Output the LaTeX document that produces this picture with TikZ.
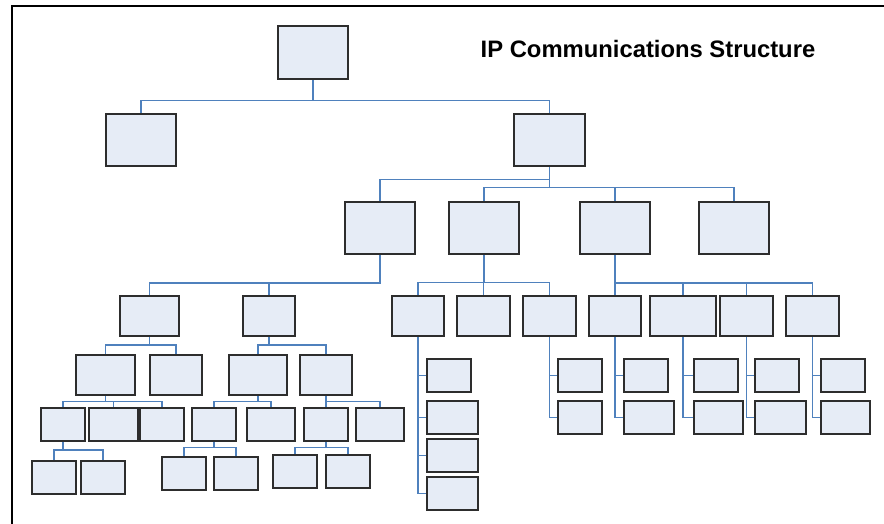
\documentclass[tikz,border=0pt]{standalone}
\usepackage{fontspec}
\setmainfont{Liberation Sans}
\usetikzlibrary{fit,backgrounds}
\definecolor{boxfill}{RGB}{230,236,246}
\definecolor{boxline}{RGB}{45,45,45}
\definecolor{connblue}{RGB}{79,129,189}
\tikzset{
  box/.style={draw=boxline, fill=boxfill, line width=1.2pt, inner sep=0pt, outer sep=0pt, minimum size=1pt},
  conn/.style={draw=connblue, line width=1.1pt},
  frameline/.style={draw=black, line width=2pt}
}
\newcommand\bx[5]{\node[box, fit={(#2,#3) (#4,#5)}] (#1) {};}
\begin{document}
\begin{tikzpicture}[x=1pt,y=-1pt]
\clip (0,0) rectangle (884,524);
\node[anchor=base, font=\fontsize{23.8}{28}\selectfont\bfseries] (title) at (648,57.3) {IP Communications Structure};
% boxes
\bx{root}{278}{26}{348}{79}
\bx{La}{106}{114}{176}{166}
\bx{Lb}{514}{114}{585}{166}
\bx{A}{345}{202}{415}{254}
\bx{B}{449}{202}{519}{254}
\bx{C}{580}{202}{650}{254}
\bx{D}{699}{202}{769}{254}
\bx{Aone}{120}{296}{179}{336}
\bx{Atwo}{243}{296}{295}{336}
\bx{Bone}{392}{296}{444}{336}
\bx{Btwo}{457}{296}{510}{336}
\bx{Bthree}{523}{296}{576}{336}
\bx{Cone}{589}{296}{641}{336}
\bx{Ctwo}{650}{296}{716}{336}
\bx{Cthree}{720}{296}{773}{336}
\bx{Cfour}{786}{296}{839}{336}
\bx{AoA}{76}{355}{135}{395}
\bx{AoB}{150}{355}{202}{395}
\bx{AtA}{229}{355}{287}{395}
\bx{AtB}{300}{355}{352}{395}
\bx{AoAa}{41}{408}{85}{441}
\bx{AoAb}{89}{408}{138}{441}
\bx{AoAc}{140}{408}{184}{441}
\bx{AtAa}{192}{408}{236}{441}
\bx{AtAb}{247}{408}{295}{441}
\bx{AtBa}{304}{408}{348}{441}
\bx{AtBb}{356}{408}{404}{441}
\bx{AoAaA}{32}{461}{76}{494}
\bx{AoAaB}{81}{461}{125}{494}
\bx{AtAaA}{162}{457}{206}{490}
\bx{AtAaB}{214}{457}{258}{490}
\bx{AtBaA}{273}{455}{317}{488}
\bx{AtBaB}{326}{455}{370}{488}
\bx{Sa}{427}{359}{471}{392}
\bx{Sb}{427}{401}{478}{434}
\bx{Sc}{427}{439}{478}{472}
\bx{Sd}{427}{477}{478}{510}
\bx{BthA}{558}{359}{602}{392}
\bx{BthB}{558}{401}{602}{434}
\bx{CoA}{624}{359}{668}{392}
\bx{CoB}{624}{401}{674}{434}
\bx{CtA}{694}{359}{738}{392}
\bx{CtB}{694}{401}{743}{434}
\bx{CthA}{755}{359}{799}{392}
\bx{CthB}{755}{401}{806}{434}
\bx{CfA}{821}{359}{865}{392}
\bx{CfB}{821}{401}{870}{434}
% connectors and frame behind the boxes
\begin{scope}[on background layer]
\fill[white] (0,0) rectangle (884,524);
\draw[frameline] (11.5,540) -- (11.5,6.5) -- (900,6.5);
\foreach \c in {La,Lb} \draw[conn] (root.south) -- ++(0,21.3) -| (\c.north);
\draw[conn] (Lb.south) -- ++(0,13.7) -| (A.north);
\foreach \c in {B,C,D} \draw[conn] (Lb.south) -- ++(0,21.7) -| (\c.north);
\foreach \c in {Aone,Atwo} \draw[conn] (A.south) -- ++(0,29) -| (\c.north);
\foreach \c in {Bone,Btwo,Bthree} \draw[conn] (B.south) -- ++(0,28.7) -| (\c.north);
\foreach \c in {Cone,Ctwo,Cthree,Cfour} \draw[conn] (C.south) -- ++(0,29) -| (\c.north);
\foreach \c in {AoA,AoB} \draw[conn] (Aone.south) -- ++(0,9) -| (\c.north);
\foreach \c in {AtA,AtB} \draw[conn] (Atwo.south) -- ++(0,9) -| (\c.north);
\foreach \c in {AoAa,AoAb,AoAc} \draw[conn] (AoA.south) -- ++(0,6.4) -| (\c.north);
\foreach \c in {AtAa,AtAb} \draw[conn] (AtA.south) -- ++(0,6.4) -| (\c.north);
\foreach \c in {AtBa,AtBb} \draw[conn] (AtB.south) -- ++(0,6.4) -| (\c.north);
\foreach \c in {AoAaA,AoAaB} \draw[conn] (AoAa.south) -- ++(0,9) -| (\c.north);
\foreach \c in {AtAaA,AtAaB} \draw[conn] (AtAa.south) -- ++(0,6.7) -| (\c.north);
\foreach \c in {AtBaA,AtBaB} \draw[conn] (AtBa.south) -- ++(0,6.7) -| (\c.north);
\foreach \c in {Sa,Sb,Sc,Sd} \draw[conn] (Bone.south) |- (\c.west);
\foreach \c in {BthA,BthB} \draw[conn] (Bthree.south) |- (\c.west);
\foreach \c in {CoA,CoB} \draw[conn] (Cone.south) |- (\c.west);
\foreach \c in {CtA,CtB} \draw[conn] (Ctwo.south) |- (\c.west);
\foreach \c in {CthA,CthB} \draw[conn] (Cthree.south) |- (\c.west);
\foreach \c in {CfA,CfB} \draw[conn] (Cfour.south) |- (\c.west);
\end{scope}
\end{tikzpicture}
\end{document}
